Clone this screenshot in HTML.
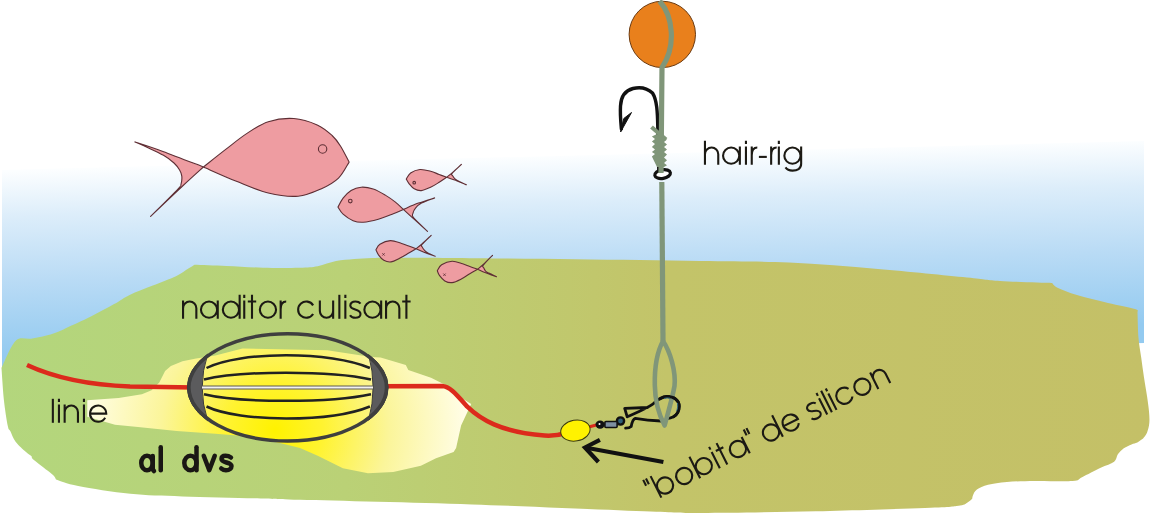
<!DOCTYPE html>
<html><head><meta charset="utf-8">
<style>
html,body{margin:0;padding:0;background:#fff;width:1151px;height:517px;overflow:hidden}
svg{display:block}
</style></head>
<body>
<svg width="1151" height="517" viewBox="0 0 1151 517">
<defs>
<linearGradient id="sky" gradientUnits="userSpaceOnUse" x1="571" y1="155.5" x2="576" y2="340">
<stop offset="0" stop-color="#fcfeff"/>
<stop offset="0.25" stop-color="#dcedfa"/>
<stop offset="0.6" stop-color="#b9dbf5"/>
<stop offset="1" stop-color="#93caf0"/>
</linearGradient>
<linearGradient id="ground" gradientUnits="userSpaceOnUse" x1="0" y1="0" x2="1151" y2="0">
<stop offset="0" stop-color="#b3d67d"/>
<stop offset="0.3" stop-color="#bad176"/>
<stop offset="0.58" stop-color="#c3c469"/>
<stop offset="1" stop-color="#c4c067"/>
</linearGradient>
<radialGradient id="glow" gradientUnits="userSpaceOnUse" cx="275" cy="430" r="190" fx="275" fy="430">
<stop offset="0" stop-color="#fff200"/>
<stop offset="0.25" stop-color="#fff330"/>
<stop offset="0.6" stop-color="#fbf59a"/>
<stop offset="1" stop-color="#fffde6"/>
</radialGradient>
</defs>

<!-- sky -->
<polygon points="2,170 1144,141 1144,343 2,371" fill="url(#sky)"/>

<!-- ground -->
<path fill="url(#ground)" d="M1.50,368.00 C3.83,363.50 10.58,345.88 15.50,341.00 C20.42,336.12 25.85,339.60 31.00,338.70 C36.15,337.80 41.25,337.02 46.40,335.60 C51.55,334.18 58.60,331.47 61.90,330.20 C65.20,328.93 61.37,330.28 66.20,328.00 C71.03,325.72 82.92,320.48 90.90,316.50 C98.88,312.52 107.65,307.70 114.10,304.10 C120.55,300.50 123.15,297.98 129.60,294.90 C136.05,291.82 145.07,288.70 152.80,285.60 C160.53,282.50 170.07,279.13 176.00,276.30 C181.93,273.47 185.30,270.53 188.40,268.60 C191.50,266.67 193.57,265.35 194.60,264.70 C199.92,264.90 215.10,265.40 226.50,265.90 C237.90,266.40 250.83,267.40 263.00,267.70 C275.17,268.00 290.38,267.95 299.50,267.70 C308.62,267.45 311.62,267.30 317.70,266.20 C323.78,265.10 329.92,262.30 336.00,261.10 C342.08,259.90 348.13,259.52 354.20,259.00 C360.27,258.48 364.77,258.20 372.40,258.00 C380.03,257.80 387.07,257.80 400.00,257.80 C412.93,257.80 420.83,257.75 450.00,258.00 C479.17,258.25 533.33,258.80 575.00,259.30 C616.67,259.80 664.33,260.47 700.00,261.00 C735.67,261.53 759.33,261.17 789.00,262.50 C818.67,263.83 848.33,266.50 878.00,269.00 C907.67,271.50 946.67,275.50 967.00,277.50 C987.33,279.50 985.83,280.08 1000.00,281.00 C1014.17,281.92 1043.33,282.67 1052.00,283.00 C1053.00,283.83 1053.83,286.00 1058.00,288.00 C1062.17,290.00 1068.67,292.50 1077.00,295.00 C1085.33,297.50 1098.33,300.67 1108.00,303.00 C1117.67,305.33 1130.08,307.50 1135.00,309.00 C1139.92,310.50 1137.08,311.50 1137.50,312.00 C1137.67,316.33 1137.88,330.43 1138.50,338.00 C1139.12,345.57 1140.30,350.95 1141.20,357.40 C1142.10,363.85 1142.93,370.27 1143.90,376.70 C1144.87,383.13 1146.15,390.20 1147.00,396.00 C1147.85,401.80 1148.62,406.98 1149.00,411.50 C1149.38,416.02 1149.63,419.55 1149.30,423.10 C1148.97,426.65 1148.03,430.22 1147.00,432.80 C1145.97,435.38 1143.75,437.63 1143.10,438.60 C1142.13,439.25 1139.23,441.53 1137.30,442.50 C1135.37,443.47 1133.75,443.43 1131.50,444.40 C1129.25,445.37 1126.05,446.68 1123.80,448.30 C1121.55,449.92 1119.62,451.85 1118.00,454.10 C1116.38,456.35 1116.98,459.52 1114.10,461.80 C1111.22,464.08 1106.05,465.23 1100.70,467.80 C1095.35,470.37 1086.68,475.00 1082.00,477.20 C1077.32,479.40 1080.43,480.37 1072.60,481.00 C1064.77,481.63 1045.95,480.85 1035.00,481.00 C1024.05,481.15 1014.72,481.28 1006.90,481.90 C999.08,482.52 993.10,483.45 988.10,484.70 C983.10,485.95 979.40,487.68 976.90,489.40 C974.40,491.12 973.88,493.43 973.10,495.00 C972.32,496.57 972.35,498.17 972.20,498.80 C971.42,499.42 969.53,501.38 967.50,502.50 C965.47,503.62 966.13,504.62 960.00,505.50 C953.87,506.38 954.70,506.83 930.70,507.80 C906.70,508.77 854.22,510.43 816.00,511.30 C777.78,512.17 730.07,513.00 701.40,513.00 C672.73,513.00 682.23,512.73 644.00,511.30 C605.77,509.87 529.33,506.32 472.00,504.40 C414.67,502.48 335.23,500.78 300.00,499.80 C264.77,498.82 280.20,499.07 260.60,498.50 C241.00,497.93 204.12,497.18 182.40,496.40 C160.68,495.62 147.67,495.53 130.30,493.80 C112.93,492.07 90.58,488.38 78.20,486.00 C65.82,483.62 59.70,480.58 56.00,479.50 C55.35,478.63 55.78,477.55 52.10,474.30 C48.42,471.05 37.37,463.05 33.90,460.00 C30.43,456.95 32.62,457.33 31.30,456.00 C29.98,454.67 28.62,454.38 26.00,452.00 C23.38,449.62 18.20,445.15 15.60,441.70 C13.00,438.25 11.70,433.92 10.40,431.30 C9.10,428.68 8.88,431.22 7.80,426.00 C6.72,420.78 4.95,409.67 3.90,400.00 C2.85,390.33 1.90,373.33 1.50,368.00 Z"/>

<!-- glow -->
<path fill="url(#glow)" d="M87.3,400.3 L118.7,398 L141.9,394.2 L151.6,390.3 L159.3,382.6 L165.1,371 L170.9,366.1 L182.5,361.3 L196.1,358.4 L215.4,355.5 L242.5,348.6 L327.2,350.3 L371.3,357.1 L380.6,357.5 L405.8,365.1 L408.3,370.1 L431,377.7 L446,385.2 L461.1,397.8 L471.2,404 L461.1,425.5 L456.1,448.1 L453.6,451.9 L436,458.2 L420.9,465.7 L393.2,472 L368,473.3 L342.9,468.2 L317.7,455.7 L300,448 L280,443 L259.4,438.4 L240,435.8 L215.4,433.8 L176.7,431 L138,427 L115,424.8 L87.3,416.7 Z"/>

<!-- red line -->
<g fill="none" stroke="#dc2a1c" stroke-width="4.5" stroke-linecap="butt" stroke-linejoin="round">
<path d="M27,365 C55,378 90,385 130,386.5 L195,387.5"/>
<path d="M380,386.2 L441.9,386.1 C450,386.5 456,394 467,406.4 C480,419 500,432 544.5,435.5 C552,436 558,435.5 566,433"/>
<path d="M585,428 L600,424" stroke-width="3"/>
</g>

<!-- feeder -->
<g>
<path d="M207.7,354 Q196.7,387.4 207.7,420.8 A100.5,55.3 0 0 1 207.7,354 Z" fill="#5b5b5d" stroke="#3a3a3a" stroke-width="1"/>
<path d="M368.6,354.6 Q377.6,387.4 368.6,420.2 A100.5,55.3 0 0 0 368.6,354.6 Z" fill="#5b5b5d" stroke="#3a3a3a" stroke-width="1"/>
<g fill="none" stroke="#222" stroke-width="2.5">
<path d="M206.5,368 C240,351 331,351 369.9,368"/>
<path d="M204,379.5 C240,370.5 331,370.5 371,379.5"/>
<path d="M204,394.2 C240,403 331,403 371,394.2"/>
<path d="M206.5,406.5 C240,422.5 331,422.5 369.9,406.5"/>
</g>
<line x1="202" y1="387.5" x2="373" y2="387.5" stroke="#5e5a52" stroke-width="4"/>
<line x1="202" y1="387.5" x2="373" y2="387.5" stroke="#f2f2f2" stroke-width="2"/>
<ellipse cx="287.7" cy="387.4" rx="98.8" ry="53.6" fill="none" stroke="#3f3f3f" stroke-width="3.5"/>
</g>

<g fill="#ee9ca1" stroke="#5e2f35" stroke-width="1.1" stroke-linejoin="round"><path d="M349.10,162.10 C347.68,159.45 343.43,150.63 340.60,146.20 C337.77,141.77 336.00,139.05 332.10,135.50 C328.20,131.95 323.58,127.73 317.20,124.90 C310.82,122.07 301.95,119.03 293.80,118.50 C285.65,117.97 276.10,119.22 268.30,121.70 C260.50,124.18 254.10,128.78 247.00,133.40 C239.90,138.02 232.97,143.80 225.70,149.40 C218.43,155.00 207.12,164.07 203.40,167.00 C199.93,170.17 191.40,177.77 182.60,186.00 C173.80,194.23 155.93,211.33 150.60,216.40 C155.12,211.88 172.63,194.65 177.70,189.30 C182.77,183.95 180.32,186.50 181.00,184.30 C181.68,182.10 182.03,178.48 181.80,176.10 C181.57,173.72 180.90,172.18 179.60,170.00 C178.30,167.82 176.68,165.45 174.00,163.00 C171.32,160.55 168.00,157.93 163.50,155.30 C159.00,152.67 151.77,149.43 147.00,147.20 C142.23,144.97 136.92,142.78 134.90,141.90 C139.57,143.48 151.48,147.22 162.90,151.40 C174.32,155.58 196.65,164.40 203.40,167.00 C208.90,169.38 225.58,176.97 236.40,181.30 C247.22,185.63 258.02,190.52 268.30,193.00 C278.58,195.48 289.23,196.92 298.10,196.20 C306.97,195.48 314.77,191.72 321.50,188.70 C328.23,185.68 333.90,182.53 338.50,178.10 C343.10,173.67 347.33,164.77 349.10,162.10 Z"/><circle cx="322.6" cy="149" r="4.2" fill="none"/><path d="M338.00,207.10 C338.85,205.60 340.92,200.87 343.10,198.10 C345.28,195.33 348.08,192.32 351.10,190.50 C354.12,188.68 357.52,187.45 361.20,187.20 C364.88,186.95 369.18,187.68 373.20,189.00 C377.22,190.32 381.60,192.92 385.30,195.10 C389.00,197.28 392.38,199.72 395.40,202.10 C398.42,204.48 402.07,208.18 403.40,209.40 C405.08,210.95 409.48,215.05 413.50,218.70 C417.52,222.35 425.17,229.20 427.50,231.30 C425.17,229.03 415.92,220.72 413.50,217.70 C411.08,214.68 412.67,214.80 413.00,213.20 C413.33,211.60 414.08,209.78 415.50,208.10 C416.92,206.42 418.32,204.80 421.50,203.10 C424.68,201.40 432.42,198.77 434.60,197.90 C431.92,198.77 423.70,201.18 418.50,203.10 C413.30,205.02 405.92,208.35 403.40,209.40 C401.72,210.12 397.48,212.07 393.30,213.70 C389.12,215.33 383.32,217.78 378.30,219.20 C373.28,220.62 367.40,221.95 363.20,222.20 C359.00,222.45 356.45,222.03 353.10,220.70 C349.75,219.37 345.62,216.47 343.10,214.20 C340.58,211.93 338.85,208.28 338.00,207.10 Z"/><circle cx="350.3" cy="201.1" r="1.8" fill="none"/><path d="M406.30,179.10 C407.02,178.08 408.33,174.60 410.60,173.00 C412.87,171.40 416.57,169.80 419.90,169.50 C423.23,169.20 427.38,170.37 430.60,171.20 C433.82,172.03 436.52,173.48 439.20,174.50 C441.88,175.52 445.45,176.83 446.70,177.30 C448.43,177.90 453.82,179.65 457.10,180.90 C460.38,182.15 464.85,184.15 466.40,184.80 C465.22,184.27 461.20,182.60 459.30,181.60 C457.40,180.60 456.08,179.75 455.00,178.80 C453.92,177.85 453.28,176.80 452.80,175.90 C452.32,175.00 450.67,175.32 452.10,173.40 C453.53,171.48 459.85,165.90 461.40,164.40 C460.08,165.60 455.95,169.45 453.50,171.60 C451.05,173.75 447.83,176.35 446.70,177.30 C445.45,178.13 441.88,180.63 439.20,182.30 C436.52,183.97 433.58,185.92 430.60,187.30 C427.62,188.68 424.03,190.35 421.30,190.60 C418.57,190.85 416.22,189.93 414.20,188.80 C412.18,187.67 410.52,185.42 409.20,183.80 C407.88,182.18 406.78,179.88 406.30,179.10 Z"/><circle cx="414.2" cy="182.7" r="1.3" fill="none"/><path d="M375.90,249.80 C376.57,248.87 377.48,245.73 379.90,244.20 C382.32,242.67 386.78,240.72 390.40,240.60 C394.02,240.48 398.53,242.58 401.60,243.50 C404.67,244.42 406.38,245.22 408.80,246.10 C411.22,246.98 414.88,248.35 416.10,248.80 C417.52,249.40 421.42,251.15 424.60,252.40 C427.78,253.65 433.43,255.65 435.20,256.30 C433.98,255.77 429.67,254.08 427.90,253.10 C426.13,252.12 425.53,251.40 424.60,250.40 C423.67,249.40 422.73,248.08 422.30,247.10 C421.87,246.12 420.52,246.47 422.00,244.50 C423.48,242.53 429.67,236.83 431.20,235.30 C429.67,236.72 424.52,241.55 422.00,243.80 C419.48,246.05 417.08,247.97 416.10,248.80 C414.88,249.52 411.55,251.52 408.80,253.10 C406.05,254.68 402.55,256.83 399.60,258.30 C396.65,259.77 393.73,261.57 391.10,261.90 C388.47,262.23 385.88,261.45 383.80,260.30 C381.72,259.15 379.92,256.75 378.60,255.00 C377.28,253.25 376.35,250.67 375.90,249.80 Z"/><path d="M382.3,253.20000000000002 L384.7,255.6 M382.3,255.6 L384.7,253.20000000000002" stroke-width="0.8"/><path d="M437.30,270.75 C438.02,269.76 439.13,266.39 441.60,264.80 C444.07,263.21 448.60,261.37 452.10,261.20 C455.60,261.03 459.65,262.92 462.60,263.80 C465.55,264.68 467.28,265.60 469.80,266.50 C472.32,267.40 476.38,268.75 477.70,269.20 C479.02,269.78 482.47,271.45 485.60,272.70 C488.73,273.95 494.68,276.03 496.50,276.70 C495.23,276.10 490.72,274.03 488.90,273.10 C487.08,272.17 486.47,271.98 485.60,271.10 C484.73,270.22 484.08,268.78 483.70,267.80 C483.32,266.82 481.83,267.28 483.30,265.20 C484.77,263.12 490.97,256.95 492.50,255.30 C490.97,256.83 485.77,262.18 483.30,264.50 C480.83,266.82 478.63,268.42 477.70,269.20 C476.38,269.95 472.53,272.07 469.80,273.70 C467.07,275.33 464.25,277.52 461.30,279.00 C458.35,280.48 454.85,282.28 452.10,282.60 C449.35,282.92 446.88,282.05 444.80,280.90 C442.72,279.75 440.85,277.39 439.60,275.70 C438.35,274.01 437.68,271.57 437.30,270.75 Z"/><path d="M443.3,273.5 L445.7,275.9 M443.3,275.9 L445.7,273.5" stroke-width="0.8"/></g>

<!-- hair line -->
<circle cx="662.3" cy="34.4" r="33.2" fill="#e9801c" stroke="#6b3a10" stroke-width="1"/>
<!-- hook -->
<path d="M658.8,170 L657.8,128 C657.5,112 657,100 652.5,93 C647,88 640,86.8 633,88.5 C625,90.5 621,97 620.5,106 C620,115 620.8,122 621.4,129" fill="none" stroke="#111" stroke-width="3.4" stroke-linecap="round"/>
<path d="M620.6,132 L631.5,112.5 L623.8,118.5 Z" fill="#111" stroke="#111" stroke-width="1" stroke-linejoin="round"/>
<!-- eye -->
<ellipse cx="662.6" cy="174.1" rx="7.9" ry="4.3" transform="rotate(-10 662.6 174.1)" fill="#fff" stroke="#111" stroke-width="3.2"/>
<g fill="none" stroke="#809679" stroke-width="5.2" stroke-linecap="butt">
<path d="M659.5,1 C673,16 676.5,46 662,67.5 L661,173"/>
<path d="M661.8,182 L663,341"/>
</g>
<!-- whipping -->
<path d="M651.5,127 L666,139.5" stroke="#809679" stroke-width="4.2" fill="none"/>
<path fill="#809679" d="M657,134 L664,138.5 L667,139.5 L664,142 L667,144.5 L664,147 L667,149.6 L664,152 L667,154.6 L664,157.5 L667,160.3 L664,163 L667,165.3 L664,167 L657,167 L651.9,156.5 L655,154 L651.9,152 L655,149.5 L651.9,147 L655,144 L651.9,141.4 L655,139 L651.9,136.4 Z"/>

<!-- clip and swivel -->
<g fill="none" stroke="#111" stroke-width="2.8" stroke-linejoin="round" stroke-linecap="round">
<path d="M647.5,407.5 L624.7,408.3 L627.2,416.8 C635,413 645,409.5 653.2,403.8 C657,400 661,396.5 667,396.5 C674,396.5 679.2,400 679.2,406.2 C679.2,411 676.5,415 673.5,416.8 C671,418 669.5,418.4 668.6,418.4"/>
<path d="M661,421 C650,420.5 642,419.5 635.3,418.4 C633,419 632,422 631.2,426.6 C629.5,428.2 627,428.2 625.6,428.2"/>
</g>
<path d="M663,341 C657,352 654.5,368 654.8,385 C655,400 658.5,414 664.6,425.5 C667,416 672,400 674.5,386 C676,372 670.5,352 663,341" fill="none" stroke="#809679" stroke-width="4.6" stroke-linejoin="round"/>
<path d="M660,399 C662,397.5 664,396.5 667,396.5 C674,396.5 679.2,400 679.2,406.2 C679.2,411 676.5,415 673.5,416.8" fill="none" stroke="#111" stroke-width="2.8" stroke-linecap="round"/>
<path d="M664,398.5 C666,397.8 668,397.8 670,398.2 M677.5,403 C678,406 677.5,409 676.5,411" fill="none" stroke="#2f6f8f" stroke-width="0.9"/>
<circle cx="620.5" cy="421" r="3.6" fill="#2e5f78" stroke="#111" stroke-width="2.4"/>
<rect x="604.9" y="421.5" width="12.2" height="6" rx="1" fill="#7d8fa0" stroke="#111" stroke-width="1.6"/>
<ellipse cx="600.1" cy="424.6" rx="4.6" ry="4.1" fill="#111"/>
<circle cx="599.5" cy="424" r="1" fill="#fff"/>

<!-- yellow bead -->
<ellipse cx="575.4" cy="430.6" rx="14.8" ry="10.4" transform="rotate(-10 575.4 430.6)" fill="#fff200" stroke="#3b3a10" stroke-width="1"/>

<!-- arrow -->
<g fill="none" stroke="#111" stroke-width="4.2" stroke-linecap="butt" stroke-linejoin="miter">
<path d="M663.4,462 L585,447.5"/>
<path d="M599.9,439.9 L585,447.5 L598.4,462"/>
</g>

<g transform="translate(182,318.8)" fill="none" stroke="#1c1a14" stroke-width="2.1" stroke-linecap="butt"><path transform="translate(0.00,0)" d="M1.05,0 V-18.3 M1.05,-10.60 A6.65,6.65 0 0 1 14.35,-10.60 V0"/><path transform="translate(17.90,0)" d="M17.25,-9.15 A8.1,8.1 0 1 0 1.05,-9.15 A8.1,8.1 0 1 0 17.25,-9.15 M17.85,-18.30 V0"/><path transform="translate(39.80,0)" d="M17.25,-9.15 A8.1,8.1 0 1 0 1.05,-9.15 A8.1,8.1 0 1 0 17.25,-9.15 M17.85,-24.00 V0"/><path transform="translate(61.20,0)" d="M1.05,0 V-18.3 M1.05,-24.0 V-20.9"/><path transform="translate(65.80,0)" d="M4.2,0 V-24.0 M0,-17.25 H8.4"/><path transform="translate(76.80,0)" d="M17.25,-9.15 A8.1,8.1 0 1 0 1.05,-9.15 A8.1,8.1 0 1 0 17.25,-9.15"/><path transform="translate(97.60,0)" d="M1.05,0 V-18.3 M1.05,-9.5 C1.05,-14.8 3,-17.25 6.6,-17.25"/><path transform="translate(115.10,0)" d="M16.02,-13.44 A8.1,8.1 0 1 0 16.02,-4.86"/><path transform="translate(136.80,0)" d="M1.05,-18.3 V-7.70 A6.65,6.65 0 0 0 14.35,-7.70 M14.35,-18.3 V0"/><path transform="translate(156.30,0)" d="M1.05,0 V-24.0"/><path transform="translate(162.30,0)" d="M1.05,0 V-18.3 M1.05,-24.0 V-20.9"/><path transform="translate(167.10,0)" d="M11.4,-15.2 C10.4,-16.6 8.6,-17.25 6.3,-17.25 C3.2,-17.25 1.2,-15.8 1.2,-13.3 C1.2,-8 11.4,-10.6 11.4,-4.8 C11.4,-2.3 9.4,-1.05 6.3,-1.05 C3.6,-1.05 1.8,-2 0.9,-3.6"/><path transform="translate(181.30,0)" d="M17.25,-9.15 A8.1,8.1 0 1 0 1.05,-9.15 A8.1,8.1 0 1 0 17.25,-9.15 M17.85,-18.30 V0"/><path transform="translate(203.00,0)" d="M1.05,0 V-18.3 M1.05,-10.60 A6.65,6.65 0 0 1 14.35,-10.60 V0"/><path transform="translate(220.20,0)" d="M4.2,0 V-24.0 M0,-17.25 H8.4"/></g><g transform="translate(703.9,164.8)" fill="none" stroke="#1c1a14" stroke-width="2.1" stroke-linecap="butt"><path transform="translate(0.00,0)" d="M1.05,0 V-24.0 M1.05,-10.60 A6.65,6.65 0 0 1 14.35,-10.60 V0"/><path transform="translate(18.10,0)" d="M17.25,-9.15 A8.1,8.1 0 1 0 1.05,-9.15 A8.1,8.1 0 1 0 17.25,-9.15 M17.85,-18.30 V0"/><path transform="translate(41.00,0)" d="M1.05,0 V-18.3 M1.05,-24.0 V-20.9"/><path transform="translate(46.80,0)" d="M1.05,0 V-18.3 M1.05,-9.5 C1.05,-14.8 3,-17.25 6.6,-17.25"/><path transform="translate(55.00,0)" d="M0,-7.9 H7.9"/><path transform="translate(66.20,0)" d="M1.05,0 V-18.3 M1.05,-9.5 C1.05,-14.8 3,-17.25 6.6,-17.25"/><path transform="translate(73.90,0)" d="M1.05,0 V-18.3 M1.05,-24.0 V-20.9"/><path transform="translate(79.40,0)" d="M17.25,-9.15 A8.1,8.1 0 1 0 1.05,-9.15 A8.1,8.1 0 1 0 17.25,-9.15 M17.85,-18.30 V-1 C17.85,4 14,5.8 9.2,5.8 C6,5.8 3.6,4.8 2.2,2.6"/></g><g transform="translate(51.8,422.8)" fill="none" stroke="#1c1a14" stroke-width="2.1" stroke-linecap="butt"><path transform="translate(0.00,0)" d="M1.05,0 V-24.0"/><path transform="translate(6.10,0)" d="M1.05,0 V-18.3 M1.05,-24.0 V-20.9"/><path transform="translate(11.80,0)" d="M1.05,0 V-18.3 M1.05,-10.60 A6.65,6.65 0 0 1 14.35,-10.60 V0"/><path transform="translate(31.10,0)" d="M1.05,0 V-18.3 M1.05,-24.0 V-20.9"/><path transform="translate(37.20,0)" d="M1.25,-9.15 H17.25 A8.1,8.1 0 1 0 16.16,-5.10"/></g><g transform="translate(653,501.8) rotate(-26.6)" fill="none" stroke="#1c1a14" stroke-width="2.1" stroke-linecap="butt"><path transform="translate(0.00,0)" d="M1.05,-24.0 V-17.5 M4.15,-24.0 V-17.5"/><path transform="translate(8.30,0)" d="M17.85,-9.15 A8.1,8.1 0 1 0 1.65,-9.15 A8.1,8.1 0 1 0 17.85,-9.15 M1.05,-24.00 V0"/><path transform="translate(30.30,0)" d="M17.25,-9.15 A8.1,8.1 0 1 0 1.05,-9.15 A8.1,8.1 0 1 0 17.25,-9.15"/><path transform="translate(51.70,0)" d="M17.85,-9.15 A8.1,8.1 0 1 0 1.65,-9.15 A8.1,8.1 0 1 0 17.85,-9.15 M1.05,-24.00 V0"/><path transform="translate(73.70,0)" d="M1.05,0 V-18.3 M1.05,-24.0 V-20.9"/><path transform="translate(78.90,0)" d="M4.2,0 V-24.0 M0,-17.25 H8.4"/><path transform="translate(90.40,0)" d="M17.25,-9.15 A8.1,8.1 0 1 0 1.05,-9.15 A8.1,8.1 0 1 0 17.25,-9.15 M17.85,-18.30 V0"/><path transform="translate(112.40,0)" d="M1.05,-24.0 V-17.5 M4.15,-24.0 V-17.5"/><path transform="translate(127.40,0)" d="M17.25,-9.15 A8.1,8.1 0 1 0 1.05,-9.15 A8.1,8.1 0 1 0 17.25,-9.15 M17.85,-24.00 V0"/><path transform="translate(149.40,0)" d="M1.25,-9.15 H17.25 A8.1,8.1 0 1 0 16.16,-5.10"/><path transform="translate(178.20,0)" d="M11.4,-15.2 C10.4,-16.6 8.6,-17.25 6.3,-17.25 C3.2,-17.25 1.2,-15.8 1.2,-13.3 C1.2,-8 11.4,-10.6 11.4,-4.8 C11.4,-2.3 9.4,-1.05 6.3,-1.05 C3.6,-1.05 1.8,-2 0.9,-3.6"/><path transform="translate(193.80,0)" d="M1.05,0 V-18.3 M1.05,-24.0 V-20.9"/><path transform="translate(199.00,0)" d="M1.05,0 V-24.0"/><path transform="translate(204.20,0)" d="M1.05,0 V-18.3 M1.05,-24.0 V-20.9"/><path transform="translate(209.40,0)" d="M16.02,-13.44 A8.1,8.1 0 1 0 16.02,-4.86"/><path transform="translate(229.57,0)" d="M17.25,-9.15 A8.1,8.1 0 1 0 1.05,-9.15 A8.1,8.1 0 1 0 17.25,-9.15"/><path transform="translate(250.97,0)" d="M1.05,0 V-18.3 M1.05,-10.60 A6.65,6.65 0 0 1 14.35,-10.60 V0"/></g><g fill="none" stroke="#1a1714" stroke-width="4.5" stroke-linecap="round" stroke-linejoin="round">
<ellipse cx="147" cy="463" rx="5.75" ry="7.25"/>
<path d="M152.75,456 V469.5 L154,471"/>
<path d="M160.75,447.25 V470.25"/>
<ellipse cx="190.4" cy="463" rx="6.1" ry="7.25"/>
<path d="M196.5,447.25 V470.25"/>
<path d="M203.75,455.75 L209.25,470.25 L214.75,455.75"/>
<path d="M231,457.5 C229,456 227,455.75 225.5,455.75 C222.5,455.75 221.5,457.5 221.5,459 C221.5,463 231.5,462 231.5,466 C231.5,468.5 229.5,470.25 226,470.25 C224,470.25 222.5,469.5 221.25,468.5"/>
</g>
</svg>
</body></html>
